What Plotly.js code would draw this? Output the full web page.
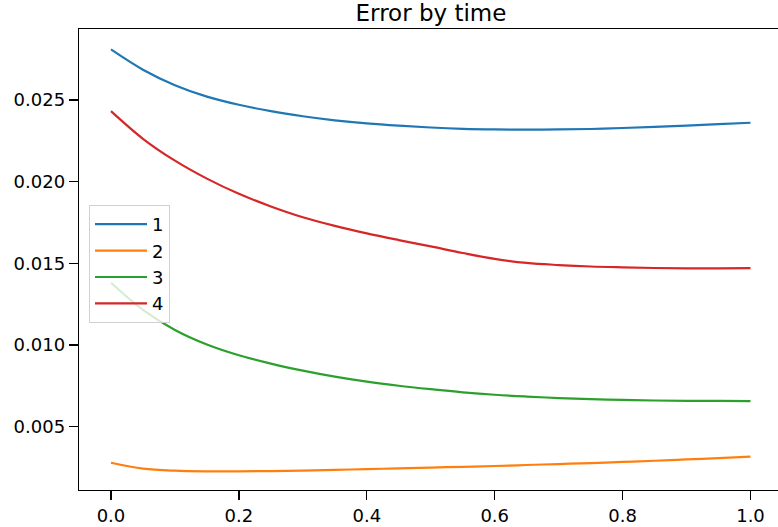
<!DOCTYPE html>
<html>
<head>
<meta charset="utf-8">
<script src="https://cdn.plot.ly/plotly-3.0.1.min.js"></script>
<style>html,body{margin:0;padding:0;background:#fff;}#chart{width:778px;height:527px;}</style>
</head>
<body>
<div id="chart"></div>
<script>
const xs = [0, 0.05, 0.1, 0.15, 0.2, 0.25, 0.3, 0.35, 0.4, 0.45, 0.5, 0.55, 0.6, 0.65, 0.7, 0.75, 0.8, 0.85, 0.9, 0.95, 1.0];
const series1 = [0.02809, 0.02685, 0.02590, 0.02520, 0.02470, 0.02431, 0.02400, 0.02375, 0.02356, 0.02342, 0.02331, 0.02323, 0.02319, 0.02318, 0.02319, 0.02322, 0.02328, 0.02335, 0.02343, 0.02352, 0.02360];
const series2 = [0.00279, 0.00243, 0.00230, 0.00226, 0.00226, 0.00228, 0.00231, 0.00235, 0.00240, 0.00244, 0.00249, 0.00254, 0.00259, 0.00265, 0.00271, 0.00277, 0.00284, 0.00291, 0.00299, 0.00307, 0.00316];
const series3 = [0.01381, 0.01215, 0.01092, 0.01003, 0.00937, 0.00886, 0.00843, 0.00806, 0.00775, 0.00750, 0.00729, 0.00710, 0.00695, 0.00684, 0.00675, 0.00668, 0.00664, 0.00660, 0.00658, 0.00657, 0.00656];
const series4 = [0.02431, 0.02262, 0.02128, 0.02018, 0.01925, 0.01848, 0.01782, 0.01729, 0.01683, 0.01642, 0.01603, 0.01563, 0.01527, 0.01502, 0.01489, 0.01480, 0.01475, 0.01471, 0.01469, 0.01469, 0.01470];
const names = ['1', '2', '3', '4'];
const colors = ['#1f77b4', '#ff7f0e', '#2ca02c', '#d62728'];
const xTicks = [0, 0.2, 0.4, 0.6, 0.8, 1.0];
const xTickText = ['0.0', '0.2', '0.4', '0.6', '0.8', '1.0'];
const yTicks = [0.005, 0.010, 0.015, 0.020, 0.025];
const yTickText = ['0.005', '0.010', '0.015', '0.020', '0.025'];
const title = 'Error by time';

const all = [series1, series2, series3, series4];
const traces = all.map((ys, i) => ({
  x: xs, y: ys, type: 'scatter', mode: 'lines', name: names[i],
  line: {color: colors[i], width: 2.2, shape: 'spline', smoothing: 1}
}));

const font = {family: 'DejaVu Sans, sans-serif', color: '#000'};
const layout = {
  width: 778, height: 527,
  margin: {l: 79, r: 0, t: 29, b: 37, pad: 0},
  paper_bgcolor: '#fff', plot_bgcolor: '#fff',
  font: Object.assign({size: 18}, font),
  title: {text: title, font: Object.assign({size: 23}, font), xref: 'container', x: 431/778, xanchor: 'center', yref: 'container', y: 1 - 12.5/527, yanchor: 'middle'},
  xaxis: {range: [-0.05, (778 - 111) / 639.5], tickvals: xTicks, ticktext: xTickText, showgrid: false, zeroline: false,
    showline: true, linecolor: '#000', linewidth: 1.3, mirror: true, ticks: 'outside', ticklen: 9, tickwidth: 1.3, tickcolor: '#000',
    tickfont: Object.assign({size: 18}, font)},
  yaxis: {range: [0.00112, 0.02934], tickvals: yTicks, ticktext: yTickText, showgrid: false, zeroline: false,
    showline: true, linecolor: '#000', linewidth: 1.3, mirror: false, ticks: 'outside', ticklen: 9, tickwidth: 1.3, tickcolor: '#000',
    tickfont: Object.assign({size: 18}, font)},
  showlegend: true,
  legend: {x: (89 - 79) / 699, y: (490 - 205) / 461, xanchor: 'left', yanchor: 'top',
    bgcolor: 'rgba(255,255,255,0.8)', bordercolor: '#d0d0d0', borderwidth: 1,
    font: Object.assign({size: 18}, font), itemwidth: 52}
};
Plotly.newPlot('chart', traces, layout, {staticPlot: true, displayModeBar: false});
</script>
</body>
</html>
